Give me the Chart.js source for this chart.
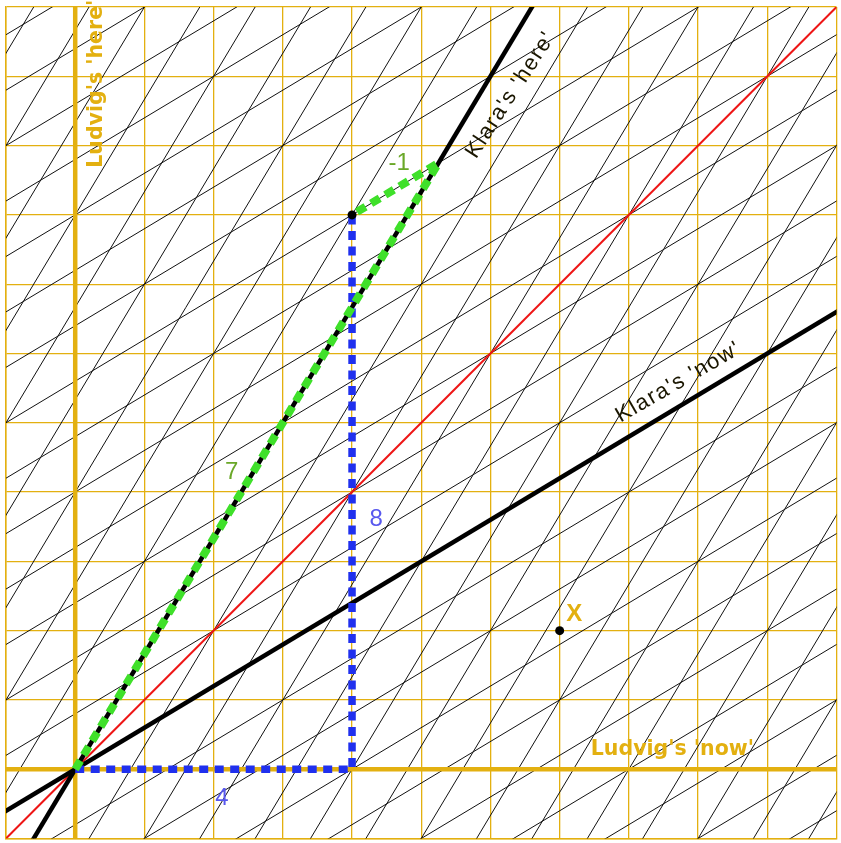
<!DOCTYPE html>
<html>
<head>
<meta charset="utf-8">
<script src="https://cdn.jsdelivr.net/npm/chart.js@4"></script>
<style>
  html, body { margin: 0; padding: 0; background: #fff; }
  canvas { display: block; }
</style>
</head>
<body>
<canvas id="mChart" width="841" height="843"></canvas>
<script>
// Klara moves at 0.6c relative to Ludvig (units: x and t, c = 1)
var velocity = 0.6;
var axisMin = -1, axisMax = 11;
var eventE = [4, 8];          // the event, Ludvig's coords (x, t)
var eventEKlara = [-1, 7];    // same event, Klara's coords (x', t')
var eventX = [7, 2];
var origin = [0, 0];

var ORANGE = '#e3b010';
var gamma = 1 / Math.sqrt(1 - velocity * velocity);

// point on Klara's 'here' axis where her clock reads t'
var klaraTurn = [velocity * gamma * eventEKlara[1], gamma * eventEKlara[1]];

function seg(p, q) { return [{x: p[0], y: p[1]}, {x: q[0], y: q[1]}]; }

var datasets = [];
function addLine(data, color, width, dash) {
  datasets.push({
    data: data, showLine: true, borderColor: color, borderWidth: width,
    pointRadius: 0, fill: false, borderDash: dash || [], borderCapStyle: 'butt'
  });
}

// Klara's grid (thin black), drawn first = at the back
for (var n = -14; n <= 18; n++) {
  var off = n / gamma;
  addLine(seg([velocity * -2 + off, -2], [velocity * 13 + off, 13]), '#111', 1);
  addLine(seg([-2, velocity * -2 + off], [13, velocity * 13 + off]), '#111', 1);
}
// light line
addLine(seg([-1, -1], [11, 11]), '#ee1515', 2);
// Ludvig's axes
addLine(seg([0, -2], [0, 12]), ORANGE, 4.5);
addLine(seg([-2, 0], [12, 0]), ORANGE, 4.5);
// Klara's axes
addLine(seg([velocity * -2, -2], [velocity * 13, 13]), '#000', 4.5);
addLine(seg([-2, velocity * -2], [13, velocity * 13]), '#000', 4.5);
// Ludvig's legs: 4 along x, 8 along t
addLine([{x: origin[0], y: origin[1]}, {x: eventE[0], y: origin[1]}, {x: eventE[0], y: eventE[1]}],
        '#2030ee', 7.5, [9, 6.5]);
// Klara's legs: 7 along t', -1 along x'
addLine([{x: origin[0], y: origin[1]}, {x: klaraTurn[0], y: klaraTurn[1]}, {x: eventE[0], y: eventE[1]}],
        '#3fe02a', 8, [10, 6.5]);
// events
datasets.push({
  data: [{x: eventE[0], y: eventE[1]}, {x: eventX[0], y: eventX[1]}],
  pointRadius: 4.5, pointBackgroundColor: '#000', pointBorderWidth: 0, showLine: false
});

// later pushed = drawn on top
datasets.forEach(function (d, i) { d.order = 1000 - i; });

var labels = [
  {text: "Ludvig's 'here'", x: 0.39, y: 8.68, angle: -90, align: 'left', base: 'alphabetic',
   font: 'bold 20.5px "DejaVu Sans"', color: ORANGE},
  {text: "Ludvig's 'now'", x: 7.45, y: 0.21, angle: 0, align: 'left', base: 'alphabetic',
   font: 'bold 20.5px "DejaVu Sans"', color: ORANGE},
  {text: "Klara's 'here'", x: 5.79, y: 8.80, angle: -57, align: 'left', base: 'alphabetic',
   font: '22px "Liberation Sans"', color: '#1a1600', spacing: '1.5px'},
  {text: "Klara's 'now'", x: 7.88, y: 5.00, angle: -30, align: 'left', base: 'alphabetic',
   font: '22px "Liberation Sans"', color: '#1a1600', spacing: '1.5px'},
  {text: '-1', x: 4.68, y: 8.75, angle: 0, align: 'center', base: 'middle',
   font: '24px "Liberation Sans"', color: '#6aa828'},
  {text: '7', x: 2.26, y: 4.29, angle: 0, align: 'center', base: 'middle',
   font: '24px "Liberation Sans"', color: '#6aa828'},
  {text: '8', x: 4.35, y: 3.61, angle: 0, align: 'center', base: 'middle',
   font: '24px "Liberation Sans"', color: '#5858ee'},
  {text: '4', x: 2.12, y: -0.42, angle: 0, align: 'center', base: 'middle',
   font: '24px "Liberation Sans"', color: '#5858ee'},
  {text: 'X', x: 7.21, y: 2.24, angle: 0, align: 'center', base: 'middle',
   font: 'bold 24px "Liberation Sans"', color: ORANGE}
];

var labelPlugin = {
  id: 'diagramLabels',
  afterDatasetsDraw: function (chart) {
    var ctx = chart.ctx, xs = chart.scales.x, ys = chart.scales.y;
    labels.forEach(function (l) {
      ctx.save();
      ctx.translate(xs.getPixelForValue(l.x), ys.getPixelForValue(l.y));
      ctx.rotate(l.angle * Math.PI / 180);
      ctx.font = l.font;
      ctx.fillStyle = l.color;
      ctx.textAlign = l.align;
      ctx.textBaseline = l.base;
      ctx.letterSpacing = l.spacing || '0px';
      ctx.fillText(l.text, 0, 0);
      ctx.restore();
    });
  }
};

function axis() {
  return {
    type: 'linear', min: axisMin, max: axisMax,
    ticks: {display: false, stepSize: 1},
    grid: {color: ORANGE, lineWidth: 1.3, drawTicks: false},
    border: {display: true, color: ORANGE, width: 1.5}
  };
}

var ctx = document.getElementById('mChart').getContext('2d');
var mChart = new Chart(ctx, {
  type: 'scatter',
  data: {datasets: datasets},
  options: {
    responsive: false,
    animation: false,
    devicePixelRatio: 1,
    layout: {padding: {left: 6, top: 7, right: 3, bottom: 3}},
    plugins: {legend: {display: false}, tooltip: {enabled: false}},
    scales: {x: axis(), y: axis()}
  },
  plugins: [labelPlugin]
});
</script>
</body>
</html>
